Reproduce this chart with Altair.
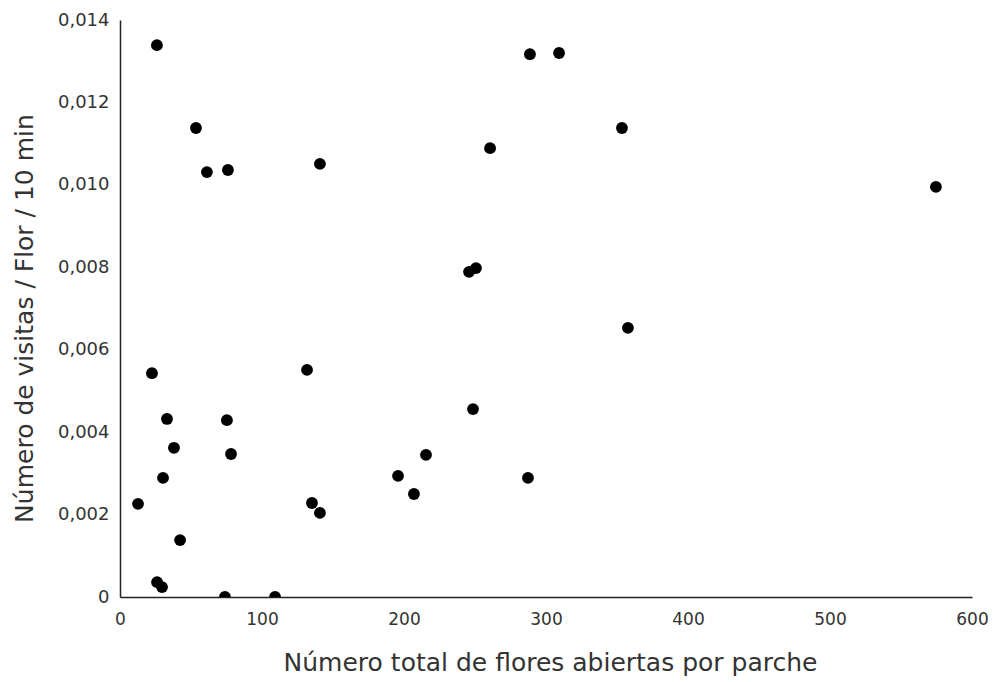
import altair as alt
import pandas as pd

flores = [26.0, 53.5, 61.2, 76.0, 140.8,
          22.5, 131.7, 33.1, 75.3, 38.0, 78.2, 30.3, 12.7, 135.2, 140.8, 42.3, 26.1, 29.6, 73.9, 109.2,
          248.6, 215.5, 195.8, 207.0, 287.3,
          288.7, 309.2, 353.5, 260.6, 245.8, 250.7, 357.7,
          574.6]
visitas = [0.01339, 0.01138, 0.01031, 0.01036, 0.01051,
           0.00543, 0.00551, 0.00432, 0.00429, 0.00362, 0.00347, 0.00289, 0.00226, 0.00228, 0.00204, 0.00138, 0.00036, 0.00024, 0.0, 0.0,
           0.00456, 0.00345, 0.00294, 0.00250, 0.00289,
           0.01317, 0.01320, 0.01138, 0.01089, 0.00789, 0.00798, 0.00653,
           0.00995]

x_ticks = [0, 100, 200, 300, 400, 500, 600]
y_ticks = [0, 0.002, 0.004, 0.006, 0.008, 0.010, 0.012, 0.014]

df = pd.DataFrame({"flores": flores, "visitas": visitas})

chart = alt.Chart(df).mark_circle(size=140, color="#000000", opacity=1, clip=True).encode(
    x=alt.X("flores:Q", scale=alt.Scale(domain=[0, 600], nice=False, zero=True),
            axis=alt.Axis(values=x_ticks, title="Número total de flores abiertas por parche",
                          grid=False, ticks=False, labelPadding=14, labelFontSize=17,
                          labelFlush=False,
                          labelFont="DejaVu Sans", labelColor="#333333",
                          domainColor="#222222", domainWidth=1.5,
                          titleFont="DejaVu Sans", titleFontSize=25, titleFontWeight="normal",
                          titleColor="#333333", titleX=430, titleY=65,
                          titleAlign="center", titleBaseline="middle")),
    y=alt.Y("visitas:Q", scale=alt.Scale(domain=[0, 0.014], nice=False),
            axis=alt.Axis(values=y_ticks, title="Número de visitas / Flor / 10 min",
                          grid=False, ticks=False, labelPadding=11, labelFontSize=18,
                          labelFlush=False,
                          labelFont="DejaVu Sans", labelColor="#333333",
                          labelExpr="datum.value == 0 ? '0' : replace(format(datum.value, '.3f'), '.', ',')",
                          domainColor="#222222", domainWidth=1.5,
                          titleFont="DejaVu Sans", titleFontSize=25, titleFontWeight="normal",
                          titleColor="#333333", titleAngle=270, titleX=-96, titleY=298,
                          titleAlign="center", titleBaseline="middle")),
).properties(
    width=852, height=577,
    background="white",
    autosize=alt.AutoSizeParams(type="none"),
    padding={"left": 120, "top": 20, "right": 22, "bottom": 85},
).configure_view(strokeWidth=0, stroke=None)

chart.save("out.html", embed_options={"renderer": "svg", "actions": False})
